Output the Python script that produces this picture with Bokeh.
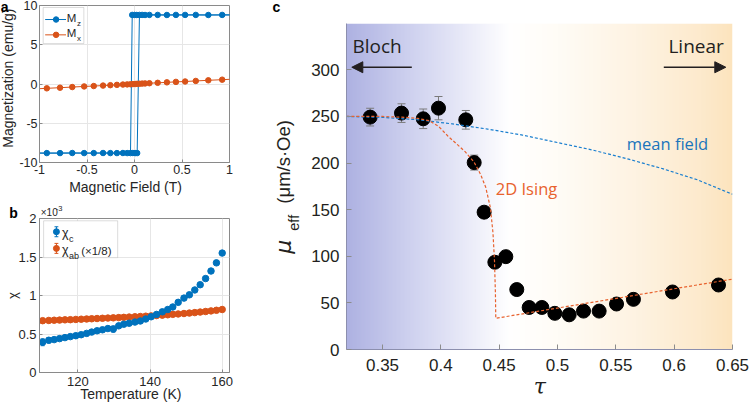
import numpy as np
from bokeh.plotting import figure
from bokeh.models import (Range1d, FixedTicker, NumeralTickFormatter, Label, Whisker, TeeHead,
                          ColumnDataSource, Arrow, NormalHead, BoxAnnotation)
from bokeh.layouts import row, column
from bokeh.embed import file_html
from bokeh.resources import INLINE

# ---------------- data ----------------
# panel a : magnetization vs field
field_lower = [-0.923, -0.784, -0.655, -0.530, -0.429, -0.331, -0.254, -0.185, -0.122, -0.077, -0.042, -0.017, 0.007, 0.028]
mz_lower = [-8.80, -8.80, -8.79, -8.80, -8.80, -8.79, -8.80, -8.80, -8.79, -8.80, -8.80, -8.79, -8.80, -8.80]
field_upper = [-0.024, 0.000, 0.024, 0.052, 0.080, 0.111, 0.157, 0.244, 0.341, 0.436, 0.533, 0.645, 0.777, 0.923]
mz_upper = [8.80, 8.80, 8.79, 8.80, 8.80, 8.79, 8.80, 8.80, 8.79, 8.80, 8.80, 8.80, 8.79, 8.80]
field_mx = [-0.923, -0.784, -0.655, -0.530, -0.429, -0.331, -0.254, -0.185, -0.122, -0.077, -0.042, -0.017,
            0.007, 0.028, 0.052, 0.080, 0.111, 0.157, 0.244, 0.341, 0.436, 0.533, 0.645, 0.777, 0.923]
mx = [-0.55, -0.47, -0.39, -0.31, -0.26, -0.20, -0.15, -0.11, -0.07, -0.05, -0.03, -0.01,
      0.00, 0.02, 0.03, 0.05, 0.07, 0.10, 0.15, 0.21, 0.27, 0.32, 0.39, 0.47, 0.55]
field_ends = [-1.07, 1.07]
mz_ends = [-8.80, 8.80]
mx_ends = [-0.64, 0.64]
a_xticks = [-1, -0.5, 0, 0.5, 1]
a_yticks = [-10, -5, 0, 5, 10]

# panel b : susceptibility vs temperature (units of 1e-3)
temp = [110.2, 111.9, 113.4, 114.9, 116.4, 117.9, 119.4, 120.9, 122.4, 123.8, 125.3, 126.8, 128.3, 129.8,
        131.3, 132.7, 134.2, 135.8, 137.3, 138.8, 140.3, 141.8, 143.4, 144.9, 146.3, 147.8, 149.4, 150.9,
        152.4, 153.9, 155.4, 156.9, 158.4, 160.0]
chi_c = [0.393, 0.419, 0.427, 0.440, 0.453, 0.466, 0.478, 0.491, 0.508, 0.525, 0.542, 0.555, 0.571, 0.564,
         0.606, 0.627, 0.640, 0.655, 0.669, 0.695, 0.724, 0.754, 0.788, 0.818, 0.851, 0.911, 0.966, 1.009,
         1.072, 1.140, 1.220, 1.318, 1.424, 1.551]
chi_c_err = [0.045, 0.035, 0.020, 0.015, 0.015, 0.012, 0.012, 0.012, 0.012, 0.012, 0.012, 0.012, 0.012, 0.040,
             0.012, 0.012, 0.012, 0.012, 0.012, 0.012, 0.012, 0.012, 0.012, 0.012, 0.012, 0.012, 0.012, 0.012,
             0.012, 0.012, 0.012, 0.012, 0.012, 0.012]
chi_ab = [0.673, 0.676, 0.679, 0.681, 0.684, 0.686, 0.689, 0.692, 0.695, 0.698, 0.701, 0.704, 0.707, 0.710,
          0.713, 0.716, 0.720, 0.724, 0.727, 0.731, 0.735, 0.740, 0.745, 0.750, 0.755, 0.760, 0.766, 0.772,
          0.778, 0.785, 0.792, 0.800, 0.808, 0.818]
b_xticks = [120, 140, 160]
b_yticks = [0, 0.5, 1, 1.5, 2]

# panel c : effective mobility vs tau
tau = [0.3394, 0.3663, 0.3849, 0.3980, 0.4214, 0.4286, 0.4371, 0.4463, 0.4557, 0.4651, 0.4757, 0.4866,
       0.4977, 0.5100, 0.5223, 0.5357, 0.5506, 0.5651, 0.5986, 0.6380]
mu_eff = [249.3, 253.6, 247.5, 258.9, 246.4, 200.5, 147.3, 93.6, 99.6, 64.3, 45.1, 45.1,
          38.8, 37.2, 41.2, 41.2, 48.8, 53.8, 61.7, 69.2]
mu_err = [9.5, 10.0, 10.5, 12.5, 10.0, 8.0, 4.0, 4.0, 4.0, 3.0, 3.0, 3.0, 3.0, 3.0, 3.0, 3.0, 3.0, 3.0, 3.0, 3.0]
ising_tau = [0.319, 0.350, 0.370, 0.380, 0.390, 0.398, 0.406, 0.414, 0.421, 0.4285, 0.434, 0.4385, 0.4425,
             0.4447, 0.4460, 0.4468, 0.4471, 0.650]
ising_mu = [250.0, 250.0, 249.0, 248.0, 245.5, 239.5, 229.0, 220.0, 212.0, 201.0, 188.0, 174.0, 152.0,
            125.0, 95.0, 60.0, 33.5, 75.5]
mf_tau = [0.319, 0.350, 0.380, 0.410, 0.440, 0.470, 0.500, 0.530, 0.560, 0.590, 0.620, 0.650]
mf_mu = [250.0, 249.0, 246.5, 242.0, 236.5, 230.0, 222.0, 214.0, 204.5, 194.0, 182.0, 166.5]
c_xticks = [0.35, 0.40, 0.45, 0.50, 0.55, 0.60, 0.65]
c_yticks = [0, 50, 100, 150, 200, 250, 300]

BLUE = "#0072BD"
ORANGE = "#D95319"
FONT = "Liberation Sans"
TXT = "#262626"
INK = "#231f20"


# reference-pixel -> data helpers (layout positions only)
def ax_(X): return -1 + (X - 39.3) / 95.7
def ay_(Y): return (83.35 - Y) / 7.835
def bx_(X): return 120 + (X - 71.7) / 3.75
def by_(Y): return (372.3 - Y) / 77.3
def cx_(X): return 0.35 + (X - 381.7) / 1166.7
def cy_(Y): return (348.7 - Y) / 0.9313


def lab(p, fx, fy, X, Y, text, size, color=TXT, font=FONT, style="normal", vertical=False,
        align="left", place=None):
    """X, Y: reference-pixel position of the text's baseline start (or centre)."""
    k = 0.38 if font == "Open Sans" else 0.35
    if vertical:
        X = X - k * size
    else:
        Y = Y - k * size
    L = Label(x=fx(X), y=fy(Y), text=text, text_font_size=f"{size}px", text_color=color,
              text_font=font, text_font_style=style, angle=(np.pi / 2 if vertical else 0.0),
              text_align=align, text_baseline="middle")
    if place is None:
        p.add_layout(L)
    else:
        p.add_layout(L, place)


def matlab_axes(p, xticks, yticks, fmt_x, fmt_y, tick_size, xstand, ystand):
    p.xaxis.ticker = FixedTicker(ticks=xticks)
    p.yaxis.ticker = FixedTicker(ticks=yticks)
    if fmt_x:
        p.xaxis.formatter = NumeralTickFormatter(format=fmt_x)
    if fmt_y:
        p.yaxis.formatter = NumeralTickFormatter(format=fmt_y)
    for axis, st in ((p.xaxis, xstand), (p.yaxis, ystand)):
        axis.major_tick_in = 3
        axis.major_tick_out = 0
        axis.minor_tick_line_color = None
        axis.axis_line_color = "#8a8a8a"
        axis.major_tick_line_color = "#8a8a8a"
        axis.major_label_text_font = FONT
        axis.major_label_text_font_size = f"{tick_size}px"
        axis.major_label_text_color = TXT
        axis.major_label_standoff = st
    p.xgrid.ticker = FixedTicker(ticks=xticks)
    p.ygrid.ticker = FixedTicker(ticks=yticks)
    p.grid.grid_line_color = "#e6e6e6"
    p.outline_line_color = "#8a8a8a"


# ---------------- panel a ----------------
pa = figure(width=260, height=195, x_range=Range1d(-1, 1), y_range=Range1d(-10, 10),
            output_backend="svg", toolbar_location=None,
            min_border_left=39, min_border_right=29, min_border_top=5, min_border_bottom=33)
matlab_axes(pa, a_xticks, a_yticks, "0.[0]", "0", 12.5, 2, 2)

up_x = [field_ends[0]] + field_lower + [f for f in field_upper if f > field_lower[-1]] + [field_ends[1]]
up_y = [mz_ends[0]] + mz_lower + [m for f, m in zip(field_upper, mz_upper) if f > field_lower[-1]] + [mz_ends[1]]
dn_x = [field_ends[1]] + field_upper[::-1] + [f for f in field_lower[::-1] if f < field_upper[0]] + [field_ends[0]]
dn_y = [mz_ends[1]] + mz_upper[::-1] + [m for f, m in zip(field_lower[::-1], mz_lower[::-1]) if f < field_upper[0]] + [mz_ends[0]]
pa.line(up_x, up_y, line_color=BLUE, line_width=1)
pa.line(dn_x, dn_y, line_color=BLUE, line_width=1)
pa.line([field_ends[0]] + field_mx + [field_ends[1]], [mx_ends[0]] + mx + [mx_ends[1]],
        line_color=ORANGE, line_width=1)
pa.scatter(field_lower + field_upper, mz_lower + mz_upper, size=5.5, color=BLUE)
pa.scatter(field_mx, mx, size=5.5, color=ORANGE)

# legend a
pa.add_layout(BoxAnnotation(left=ax_(43), right=ax_(84), top=ay_(7), bottom=ay_(43),
                            fill_color="white", fill_alpha=1, line_color="#8a8a8a", line_width=1,
                            level="underlay"))
for Yr, col, sub in ((19.0, BLUE, "z"), (34.3, ORANGE, "x")):
    pa.line([ax_(45), ax_(66)], [ay_(Yr), ay_(Yr)], line_color=col, line_width=1)
    pa.scatter([ax_(56)], [ay_(Yr)], size=5.5, color=col)
    lab(pa, ax_, ay_, 66.7, Yr + 2.3, "M", 11.5)
    lab(pa, ax_, ay_, 77.0, Yr + 6.3, sub, 8)

lab(pa, ax_, ay_, 0.3, 11.7, "a", 14, color="black", style="bold", place="right")
lab(pa, ax_, ay_, 12.5, 77.5, "Magnetization (emu/g)", 14, vertical=True, align="center", place="left")
lab(pa, ax_, ay_, 126, 190.7, "Magnetic Field (T)", 14, align="center", place="below")

# ---------------- panel b ----------------
pb = figure(width=260, height=209, x_range=Range1d(bx_(31.7), bx_(229.3)), y_range=Range1d(0, 2),
            output_backend="svg", toolbar_location=None,
            min_border_left=32, min_border_right=31, min_border_top=23, min_border_bottom=32)
matlab_axes(pb, b_xticks, b_yticks, None, "0.[0]", 13, 4, 3)

src_c = ColumnDataSource(dict(t=temp, y=chi_c,
                              lo=[v - e for v, e in zip(chi_c, chi_c_err)],
                              hi=[v + e for v, e in zip(chi_c, chi_c_err)]))
pb.add_layout(Whisker(source=src_c, base="t", upper="hi", lower="lo", line_color=BLUE, line_width=1,
                      upper_head=TeeHead(size=4, line_color=BLUE), lower_head=TeeHead(size=4, line_color=BLUE),
                      level="underlay"))
pb.scatter(temp, chi_ab, size=6.5, color=ORANGE)
pb.scatter("t", "y", source=src_c, size=6.5, color=BLUE)

# legend b
pb.add_layout(BoxAnnotation(left=bx_(36), right=bx_(113), top=by_(220), bottom=by_(257),
                            fill_color="white", fill_alpha=1, line_color="#8a8a8a", line_width=1,
                            level="underlay"))
for Yr, col in ((231.0, BLUE), (247.7, ORANGE)):
    pb.segment([bx_(49.3)], [by_(Yr - 5)], [bx_(49.3)], [by_(Yr + 5)], line_color=col, line_width=1)
    pb.segment([bx_(47.3), bx_(47.3)], [by_(Yr - 5), by_(Yr + 5)], [bx_(51.3), bx_(51.3)],
               [by_(Yr - 5), by_(Yr + 5)], line_color=col, line_width=1)
    pb.scatter([bx_(49.3)], [by_(Yr)], size=6, color=col)
lab(pb, bx_, by_, 55, 237, "χ", 12.5)
lab(pb, bx_, by_, 62.5, 241, "c", 9)
lab(pb, bx_, by_, 55, 254, "χ", 12.5)
lab(pb, bx_, by_, 62.5, 258, "ab", 9)
lab(pb, bx_, by_, 75, 254, "(×1/8)", 11.5)

lab(pb, bx_, by_, 33, 215, "×10", 10, place="below")
lab(pb, bx_, by_, 48.5, 210.5, "-3", 7.5, place="right")
lab(pb, bx_, by_, 0.3, 216.7, "b", 14, color="black", style="bold", place="left")
lab(pb, bx_, by_, 8.5, 295, "χ", 13, vertical=True, align="center", place="right")
lab(pb, bx_, by_, 126.7, 399, "Temperature (K)", 14, align="center", place="above")

# ---------------- panel c ----------------
pc = figure(width=489, height=404, x_range=Range1d(cx_(345.7), 0.65), y_range=Range1d(0, cy_(23)),
            output_backend="svg", toolbar_location=None,
            min_border_left=86, min_border_right=17, min_border_top=23, min_border_bottom=55)
pc.xaxis.ticker = FixedTicker(ticks=c_xticks)
pc.yaxis.ticker = FixedTicker(ticks=c_yticks)
pc.xaxis.formatter = NumeralTickFormatter(format="0.[00]")
for axis, st in ((pc.xaxis, 9), (pc.yaxis, 7)):
    axis.major_tick_in = 5
    axis.major_tick_out = 0
    axis.minor_tick_line_color = None
    axis.axis_line_color = "#8c8fae"
    axis.major_tick_line_color = "#8c8c8c"
    axis.major_label_text_font = FONT
    axis.major_label_text_font_size = "17px"
    axis.major_label_text_color = INK
    axis.major_label_standoff = st
pc.grid.visible = False
pc.outline_line_color = None

# background gradient (Bloch -> Linear)
x0, x1 = cx_(345.7), 0.65
N = 300
pos = [0.0, 0.15, 0.30, 0.42, 0.55, 0.75, 0.92, 1.0]
rr = [174, 204, 232, 255, 255, 254, 253, 252]
gg = [178, 207, 233, 255, 252, 243, 234, 228]
bb = [226, 238, 248, 255, 246, 226, 205, 190]
tt = np.linspace(0, 1, N)
img = np.empty((1, N), dtype=np.uint32)
view = img.view(dtype=np.uint8).reshape((1, N, 4))
view[0, :, 0] = np.interp(tt, pos, rr).astype(np.uint8)
view[0, :, 1] = np.interp(tt, pos, gg).astype(np.uint8)
view[0, :, 2] = np.interp(tt, pos, bb).astype(np.uint8)
view[0, :, 3] = 255
pc.image_rgba(image=[img], x=x0, y=0, dw=x1 - x0, dh=cy_(23), level="image")

src_mu = ColumnDataSource(dict(t=tau, m=mu_eff,
                               lo=[v - e for v, e in zip(mu_eff, mu_err)],
                               hi=[v + e for v, e in zip(mu_eff, mu_err)]))
pc.add_layout(Whisker(source=src_mu, base="t", upper="hi", lower="lo", line_color="#7a7a7a", line_width=1,
                      upper_head=TeeHead(size=8, line_color="#7a7a7a", line_width=1),
                      lower_head=TeeHead(size=8, line_color="#7a7a7a", line_width=1), level="underlay"))
pc.scatter("t", "m", source=src_mu, size=14, color="black")
pc.line(mf_tau, mf_mu, line_color="#1a7fcf", line_width=1.2, line_dash="3 2")
pc.line(ising_tau, ising_mu, line_color="#e8622e", line_width=1.2, line_dash="3 2")

pc.add_layout(Arrow(end=NormalHead(size=11, fill_color=INK, line_color=INK),
                    x_start=cx_(411), y_start=cy_(66.7), x_end=cx_(351), y_end=cy_(66.7),
                    line_color=INK, line_width=1.5))
pc.add_layout(Arrow(end=NormalHead(size=11, fill_color=INK, line_color=INK),
                    x_start=cx_(663), y_start=cy_(66.7), x_end=cx_(725), y_end=cy_(66.7),
                    line_color=INK, line_width=1.5))
lab(pc, cx_, cy_, 351.7, 53, "Bloch", 19, color=INK, font="Open Sans")
lab(pc, cx_, cy_, 723, 53, "Linear", 19, color=INK, font="Open Sans", align="right")
lab(pc, cx_, cy_, 626, 149, "mean field", 16.5, color="#1a75bc", font="Open Sans")
lab(pc, cx_, cy_, 495, 194.5, "2D Ising", 16.5, color="#e8622e", font="Open Sans")

lab(pc, cx_, cy_, 271.7, 11.7, "c", 14, color="black", style="bold", place="above")
lab(pc, cx_, cy_, 290, 253, "μ", 22, color=INK, font="DejaVu Sans", style="italic", vertical=True, place="left")
lab(pc, cx_, cy_, 298, 230, "eff", 14.5, color=INK, vertical=True, place="right")
lab(pc, cx_, cy_, 289, 203, "(μm/s·Oe)", 18.5, color=INK, vertical=True, place="left")
lab(pc, cx_, cy_, 539, 393, "τ", 22, color=INK, font="DejaVu Serif", style="italic", align="center", place="below")

layout = row(column(pa, pb), pc)
open("out.html", "w").write(file_html(layout, INLINE))
